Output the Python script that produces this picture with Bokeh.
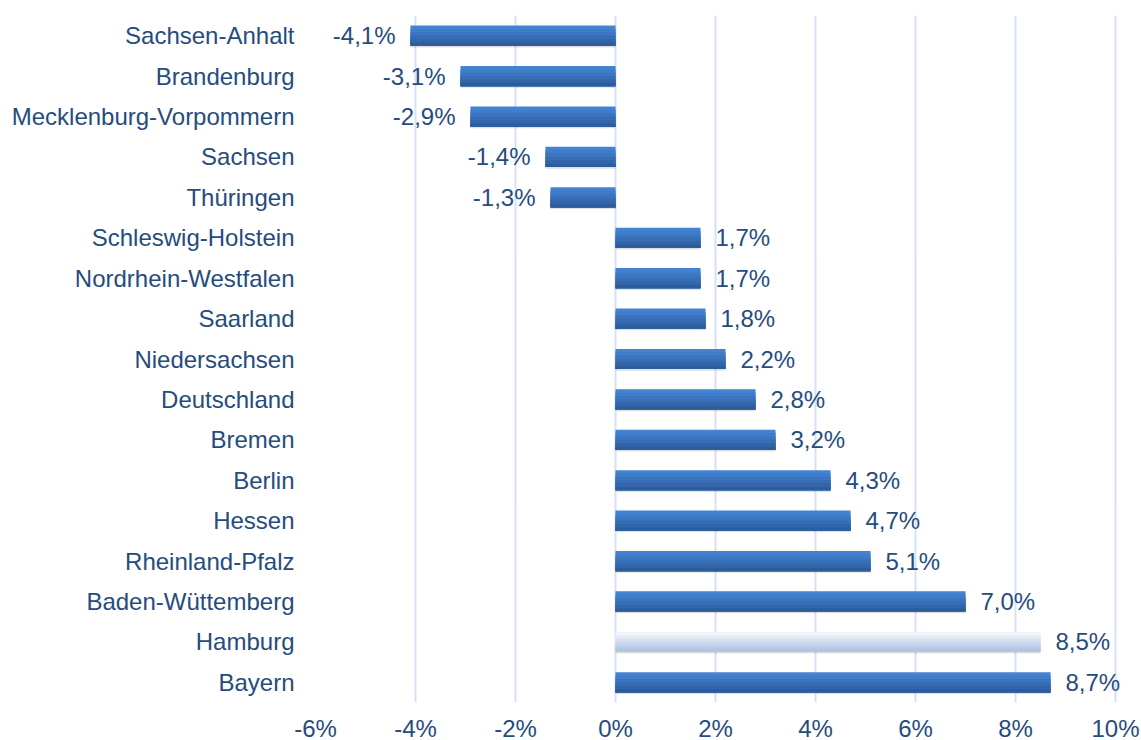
from bokeh.plotting import figure
from bokeh.models import FactorRange, Range1d, FixedTicker, ColumnDataSource
from bokeh.transform import dodge
from bokeh.embed import file_html
from bokeh.resources import INLINE
from bokeh.core.properties import value

states = ["Sachsen-Anhalt", "Brandenburg", "Mecklenburg-Vorpommern", "Sachsen",
          "Thüringen", "Schleswig-Holstein", "Nordrhein-Westfalen", "Saarland",
          "Niedersachsen", "Deutschland", "Bremen", "Berlin", "Hessen",
          "Rheinland-Pfalz", "Baden-Wüttemberg", "Hamburg", "Bayern"]
growth = [-4.1, -3.1, -2.9, -1.4, -1.3, 1.7, 1.7, 1.8, 2.2, 2.8, 3.2, 4.3, 4.7,
          5.1, 7.0, 8.5, 8.7]
highlight = "Hamburg"
x_ticks = [-6, -4, -2, 0, 2, 4, 6, 8, 10]
x_tick_labels = ["-6%", "-4%", "-2%", "0%", "2%", "4%", "6%", "8%", "10%"]

TEXT = "#264c7d"
FONT = "Liberation Sans"
FS = "24px"
BAR_H = 0.5

p = figure(y_range=FactorRange(factors=states[::-1], range_padding=0),
           x_range=Range1d(-6, 10.5),
           frame_width=825, frame_height=687,
           min_border_left=315, min_border_right=0, min_border_top=15,
           min_border_bottom=10,
           output_backend="svg", toolbar_location=None)
p.outline_line_color = None
p.background_fill_color = "white"

src = ColumnDataSource(dict(
    state=states,
    val=growth,
    zero=[0] * len(states),
    label=[(f"{v:.1f}%").replace(".", ",") for v in growth],
    off=[15 if v >= 0 else -15 for v in growth],
    align=["left" if v >= 0 else "right" for v in growth],
))

# shadow
p.hbar(y=dodge("state", -0.04, range=p.y_range), left="zero", right="val",
       height=BAR_H, source=src, fill_color="#000000", fill_alpha=0.12,
       line_color=None)

# gradient bars: stacked, bottom-anchored overlays (top colour first)
normal_cols = ["#4383d2", "#3f7cc9", "#3b75bf", "#376db4", "#3265a9", "#2d5c9c"]
hl_cols = ["#f2f6fb", "#e3ebf6", "#d5e1f0", "#c8d7eb", "#bccee6", "#b0c5e1"]
n = len(normal_cols)
normal_idx = [i for i, s in enumerate(states) if s != highlight]
hl_idx = [i for i, s in enumerate(states) if s == highlight]
for idx, cols in ((normal_idx, normal_cols), (hl_idx, hl_cols)):
    sub = ColumnDataSource(dict(
        state=[states[i] for i in idx],
        val=[growth[i] for i in idx],
        zero=[0] * len(idx),
    ))
    for k, c in enumerate(cols):
        h = BAR_H * (n - k) / n
        center = -BAR_H / 2 + h / 2
        p.hbar(y=dodge("state", center, range=p.y_range), left="zero",
               right="val", height=h, source=sub, fill_color=c,
               line_color=None)

p.text(x="val", y="state", text="label", x_offset="off", text_align="align",
       text_baseline="middle", source=src, text_font=value(FONT),
       text_font_size=FS, text_color=TEXT)

p.xaxis.ticker = FixedTicker(ticks=x_ticks)
p.xaxis.major_label_overrides = {t: l for t, l in zip(x_ticks, x_tick_labels)}
p.xaxis.axis_line_color = None
p.xaxis.major_tick_line_color = None
p.xaxis.minor_tick_line_color = None
p.xaxis.major_tick_out = 0
p.xaxis.major_tick_in = 0
p.xaxis.major_label_standoff = 12
p.xaxis.major_label_text_font = FONT
p.xaxis.major_label_text_font_size = FS
p.xaxis.major_label_text_color = TEXT

p.yaxis.axis_line_color = None
p.yaxis.major_tick_line_color = None
p.yaxis.minor_tick_line_color = None
p.yaxis.major_tick_out = 0
p.yaxis.major_tick_in = 0
p.yaxis.major_label_standoff = 21
p.yaxis.major_label_text_font = FONT
p.yaxis.major_label_text_font_size = FS
p.yaxis.major_label_text_color = TEXT

p.xgrid.ticker = FixedTicker(ticks=x_ticks)
p.xgrid.grid_line_color = "#d4e2f5"
p.xgrid.grid_line_width = 2
p.ygrid.grid_line_color = None

open("out.html", "w").write(file_html(p, INLINE))
